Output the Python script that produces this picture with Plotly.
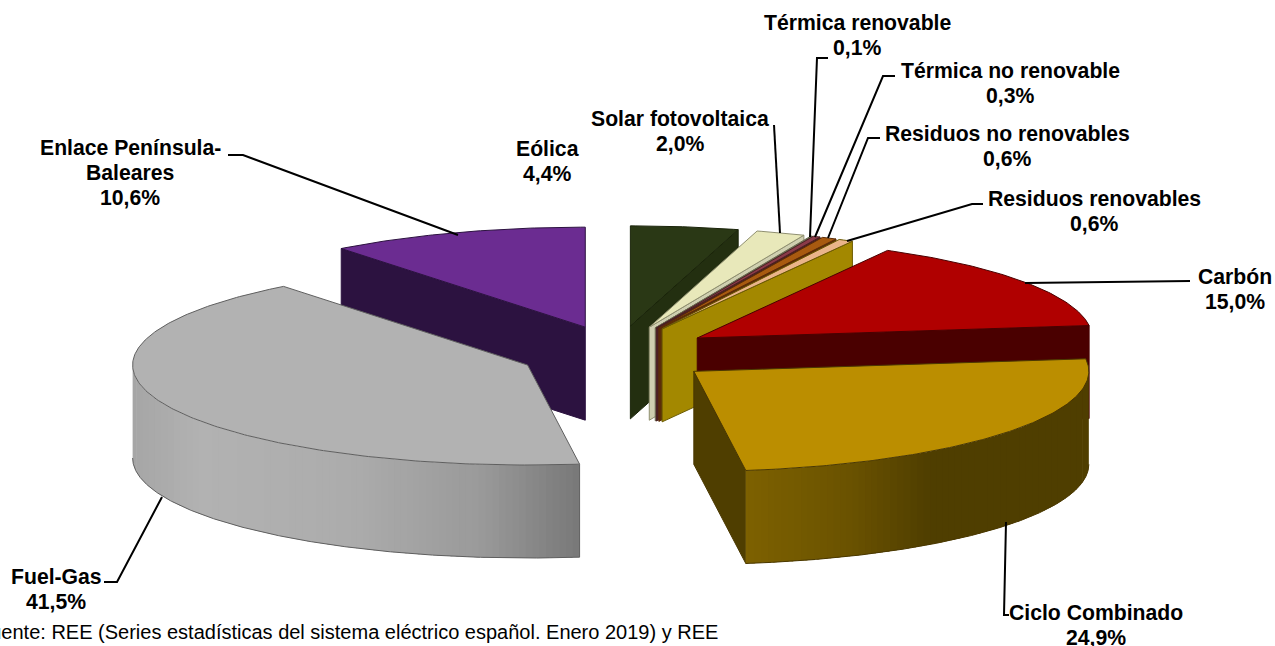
import math
import plotly.graph_objects as go

# ---------- data ----------
categories = ["Eólica", "Solar fotovoltaica", "Térmica renovable", "Térmica no renovable",
              "Residuos no renovables", "Residuos renovables", "Carbón", "Ciclo Combinado",
              "Fuel-Gas", "Enlace Península-Baleares"]
shares = [4.4, 2.0, 0.1, 0.3, 0.6, 0.6, 15.0, 24.9, 41.5, 10.6]
share_labels = ["4,4%", "2,0%", "0,1%", "0,3%", "0,6%", "0,6%", "15,0%", "24,9%", "41,5%", "10,6%"]

# ---------- style ----------
top_colors = ["#2a3815", "#e8e8ba", "#9a9a80", "#8a3a48", "#a85a10", "#eab48a",
              "#b00000", "#bb8e00", "#b2b2b2", "#6b2c91"]
wall_colors = ["#232f10", "#cfcfb0", "#8a8a70", "#4a1f22", "#5c2d08", "#a38800",
               "#4a0000", "#4f3e00", "#8f8f8f", "#2c1240"]
edge_colors = ["#1a240a", "#8f8f70", "#6a6a50", "#4a1f22", "#5c2d08", "#6b5a00",
               "#4a0000", "#4a3800", "#5f5f5f", "#2c1240"]
rim_gradients = {
    7: [(747, "#7d6100"), (850, "#6a5200"), (930, "#4f3e00"), (1095, "#4f3e00")],
    8: [(131, "#a5a5a5"), (200, "#b2b2b2"), (350, "#acacac"), (480, "#9a9a9a"), (577, "#797979")],
}
CX, CY, RX, RY, EX, EY, H = 617, 354, 395, 100, 97, 28.4, 93
draw_order = [9, 8, 0, 1, 2, 3, 4, 5, 6, 7]

label_x = [547, 680, 857, 1010, 1007, 1094, 1235, 1096, 56, 130]
label_y = [148, 118, 22, 70, 133, 198, 276, 612, 576, 147]
LINE_STEP = 25
FONT_SIZE = 21.2
label_lines = [["Eólica"], ["Solar fotovoltaica"], ["Térmica renovable"], ["Térmica no renovable"],
               ["Residuos no renovables"], ["Residuos renovables"], ["Carbón"], ["Ciclo Combinado"],
               ["Fuel-Gas"], ["Enlace Península-", "Baleares"]]
leaders = [
    ([774, 780], [125, 233]),
    ([828, 817, 810], [58, 58, 237]),
    ([895, 883, 815], [76, 76, 237]),
    ([880, 868, 828], [138, 138, 238]),
    ([983, 972, 847], [204, 204, 241]),
    ([1190, 1025], [281, 283]),
    ([1006, 1004, 1009], [522, 615, 615]),
    ([104, 117, 162], [582, 582, 497]),
    ([228, 243, 458], [155, 155, 235]),
]
source_text = "Fuente: REE (Series estadísticas del sistema eléctrico español. Enero 2019) y REE"

fig = go.Figure()


def poly(xs, ys, fill, line=None, width=1.0):
    if width == 0:
        fig.add_trace(go.Scatter(x=xs, y=ys, mode="none", fill="toself", fillcolor=fill,
                                 hoverinfo="skip", showlegend=False))
    else:
        fig.add_trace(go.Scatter(x=xs, y=ys, mode="lines", fill="toself", fillcolor=fill,
                                 line=dict(color=line or fill, width=width),
                                 hoverinfo="skip", showlegend=False))


def mix(stops, x):
    def rgb(c):
        return [int(c[i:i + 2], 16) for i in (1, 3, 5)]
    if x <= stops[0][0]:
        return stops[0][1]
    for (x0, c0), (x1, c1) in zip(stops, stops[1:]):
        if x <= x1:
            t = (x - x0) / (x1 - x0)
            a, b = rgb(c0), rgb(c1)
            return "#%02x%02x%02x" % tuple(round(a[k] + (b[k] - a[k]) * t) for k in range(3))
    return stops[-1][1]


total = sum(shares)
bounds = [0.0]
for s in shares:
    bounds.append(bounds[-1] + s / total * 360)

for i in draw_order:
    a0, a1 = bounds[i], bounds[i + 1]
    mid = math.radians((a0 + a1) / 2)
    ax = CX + EX * math.sin(mid)
    ay = CY - EY * math.cos(mid)

    def pt(deg, dy=0.0):
        r = math.radians(deg)
        return ax + RX * math.sin(r), ay - RY * math.cos(r) + dy

    # radial walls facing the viewer
    for edge, normal in ((a0, a0 - 90), (a1, a1 + 90)):
        if math.cos(math.radians(normal)) < 0:
            px, py = pt(edge)
            poly([ax, px, px, ax, ax], [ay, py, py + H, ay + H, ay],
                 wall_colors[i], edge_colors[i], 1)

    # outer rim, front half only: fine arc steps, grouped into columns for the shading
    lo, hi = max(a0, 90), min(a1, 270)
    if lo < hi:
        n = 500
        dense = [lo + (hi - lo) * k / n for k in range(n + 1)]
        steps = [dense[0]]
        for d in dense[1:]:
            if abs(pt(d)[0] - pt(steps[-1])[0]) >= 6:
                steps.append(d)
        if steps[-1] != dense[-1]:
            steps.append(dense[-1])
        # each column overlaps its neighbour so no seam shows
        m = len(steps) - 1
        for k in range(m):
            seg = [d for d in dense if steps[k] <= d <= steps[k + 1]]
            if k + 1 < m:
                seg += [d for d in dense if steps[k + 1] < d <= steps[k + 1] + 0.5]
            top = [pt(d) for d in seg]
            low = [pt(d, H) for d in reversed(seg)]
            xm = (pt(steps[k])[0] + pt(steps[k + 1])[0]) / 2
            col = mix(rim_gradients[i], xm) if i in rim_gradients else wall_colors[i]
            poly([p[0] for p in top + low], [p[1] for p in top + low], col, width=0)
        bx, by = zip(*[pt(s, H) for s in dense])
        fig.add_trace(go.Scatter(x=list(bx), y=list(by), mode="lines",
                                 line=dict(color=edge_colors[i], width=1),
                                 hoverinfo="skip", showlegend=False))
        ex, ey = pt(lo)
        if a0 > 90:
            fig.add_trace(go.Scatter(x=[ex, ex], y=[ey, ey + H], mode="lines",
                                     line=dict(color=edge_colors[i], width=1),
                                     hoverinfo="skip", showlegend=False))

    # top face
    n = max(2, int((a1 - a0) * 1.5))
    arc = [pt(a0 + (a1 - a0) * k / n) for k in range(n + 1)]
    poly([ax] + [p[0] for p in arc] + [ax], [ay] + [p[1] for p in arc] + [ay],
         top_colors[i], edge_colors[i], 1)

# leader lines
for lx, ly in leaders:
    fig.add_trace(go.Scatter(x=lx, y=ly, mode="lines", line=dict(color="#000000", width=2),
                             hoverinfo="skip", showlegend=False))

# labels
annotations = []
for lines, pct, x, y in zip(label_lines, share_labels, label_x, label_y):
    for k, text in enumerate(lines + [pct]):
        annotations.append(dict(x=x, y=y + k * LINE_STEP, xref="x", yref="y", showarrow=False,
                                xanchor="center", yanchor="middle", text=f"<b>{text}</b>",
                                font=dict(family="Liberation Sans", size=FONT_SIZE, color="#000000")))
annotations.append(dict(x=720, y=632, xref="x", yref="y", showarrow=False, align="right",
                        xanchor="right", yanchor="middle", text=source_text,
                        font=dict(family="Liberation Sans", size=20, color="#000000")))

fig.update_layout(
    width=1275, height=646, margin=dict(l=0, r=0, t=0, b=0),
    paper_bgcolor="#ffffff", plot_bgcolor="#ffffff", annotations=annotations,
    xaxis=dict(range=[0, 1275], visible=False, fixedrange=True),
    yaxis=dict(range=[646, 0], visible=False, fixedrange=True),
)
fig.write_html("out.html", post_script="document.body.style.margin='0';document.body.style.overflow='hidden';",
               config=dict(displayModeBar=False))
